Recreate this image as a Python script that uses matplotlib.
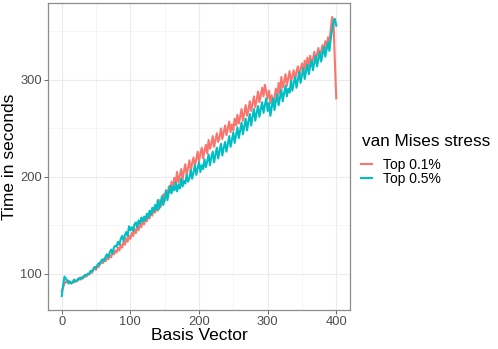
import matplotlib
matplotlib.use("Agg")
import matplotlib.pyplot as plt
import numpy as np
from matplotlib.lines import Line2D

plt.rcParams["font.family"] = ["Liberation Sans", "DejaVu Sans"]

# basis vector index (sampled every 2)
basis = np.arange(0, 401, 2)

# time in seconds
top_01 = [82, 86, 90, 92, 91, 93, 91, 90, 92, 91,
          93, 92, 94, 96, 94, 97, 96, 98, 97, 100,
          99, 102, 101, 104, 106, 104, 108, 107, 111, 112,
          111, 115, 113, 117, 115, 119, 117, 122, 120, 124,
          122, 127, 124, 130, 127, 133, 130, 137, 133, 139,
          136, 142, 139, 146, 142, 149, 145, 152, 148, 155,
          151, 158, 154, 161, 157, 165, 160, 168, 163, 171,
          165, 176, 169, 173, 182, 175, 186, 179, 190, 184,
          195, 188, 199, 193, 205, 194, 201, 208, 197, 206,
          213, 202, 209, 217, 206, 214, 220, 211, 218, 226,
          216, 224, 230, 219, 227, 233, 224, 238, 229, 234,
          242, 231, 238, 245, 236, 241, 250, 239, 246, 253,
          243, 250, 257, 246, 254, 248, 260, 253, 264, 255,
          262, 270, 258, 266, 274, 263, 269, 278, 268, 275,
          283, 272, 279, 288, 277, 284, 292, 283, 295, 288,
          281, 289, 276, 284, 274, 282, 291, 280, 297, 286,
          303, 292, 298, 306, 294, 302, 309, 297, 304, 310,
          300, 308, 314, 303, 311, 317, 307, 320, 311, 323,
          314, 325, 317, 321, 329, 318, 327, 333, 322, 330,
          336, 327, 340, 332, 344, 337, 353, 365, 360, 318,
          281]
top_05 = [77, 88, 97, 95, 93, 90, 92, 90, 91, 94,
          92, 93, 95, 94, 96, 95, 97, 99, 98, 100,
          100, 103, 102, 105, 107, 106, 109, 111, 110, 114,
          115, 113, 118, 120, 117, 122, 125, 121, 127, 129,
          128, 133, 130, 136, 139, 134, 140, 143, 139, 149,
          145, 148, 144, 151, 153, 148, 155, 152, 158, 154,
          159, 155, 162, 158, 165, 161, 168, 164, 171, 166,
          176, 167, 173, 180, 171, 178, 186, 176, 184, 191,
          183, 190, 186, 194, 185, 192, 188, 198, 190, 196,
          193, 202, 195, 199, 207, 198, 205, 212, 202, 209,
          215, 205, 212, 208, 218, 210, 216, 223, 212, 220,
          226, 215, 223, 230, 219, 227, 234, 222, 230, 236,
          226, 234, 242, 231, 238, 246, 235, 243, 251, 240,
          248, 256, 244, 252, 260, 248, 257, 265, 253, 262,
          270, 258, 266, 273, 262, 270, 277, 266, 274, 281,
          268, 276, 263, 272, 281, 269, 278, 285, 274, 282,
          290, 278, 286, 294, 283, 291, 287, 299, 289, 297,
          303, 292, 300, 308, 297, 305, 312, 301, 309, 316,
          306, 314, 320, 310, 318, 325, 314, 322, 329, 319,
          327, 334, 324, 332, 339, 330, 343, 352, 360, 363,
          356]

series = {"Top 0.1%": (top_01, "#F8766D"), "Top 0.5%": (top_05, "#00BFC4")}

fig = plt.figure(figsize=(4.98, 3.49), dpi=100)
ax = fig.add_axes([48 / 498, 1 - 310 / 349, 302 / 498, 307 / 349])

for name, (vals, col) in series.items():
    ax.plot(basis, vals, color=col, lw=1.5, label=name)

# ggplot-like 5% expansion
allv = np.concatenate([top_01, top_05])
span = allv.max() - allv.min()
ax.set_xlim(-20, 420)
ax.set_ylim(allv.min() - 0.05 * span, allv.max() + 0.05 * span)

ax.set_xticks([0, 100, 200, 300, 400])
ax.set_yticks([100, 200, 300])
ax.set_xticks([50, 150, 250, 350], minor=True)
ax.set_yticks([150, 250, 350], minor=True)
ax.grid(which="major", color="#EBEBEB", lw=0.8)
ax.grid(which="minor", color="#F2F2F2", lw=0.5)
ax.set_axisbelow(True)
ax.tick_params(which="major", length=3, width=0.6, color="#4D4D4D",
               labelcolor="#4D4D4D", labelsize=9.3, pad=1.5)
ax.tick_params(which="minor", length=0)
for s in ax.spines.values():
    s.set_color("#8C8C8C")
    s.set_linewidth(0.9)

ax.set_xlabel("Basis Vector", fontsize=12.5)
ax.set_ylabel("Time in seconds", fontsize=12.5)
ax.xaxis.set_label_coords(0.5, -0.058)
ax.yaxis.set_label_coords(-0.103, 0.5)

# legend: title as text, keys as a title-less legend below it
fig.text(362 / 498, 1 - 141 / 349, "van Mises stress", fontsize=12.3,
         ha="left", va="center")
handles = [Line2D([], [], color=c, lw=1.5) for _, c in series.values()]
fig.legend(handles, list(series.keys()), loc="upper left",
           bbox_to_anchor=(361 / 498, 1 - 158 / 349),
           frameon=False, fontsize=10, handlelength=0.8,
           handletextpad=0.75, labelspacing=0.0, borderpad=0,
           borderaxespad=0)

fig.savefig("out.png", dpi=100)
